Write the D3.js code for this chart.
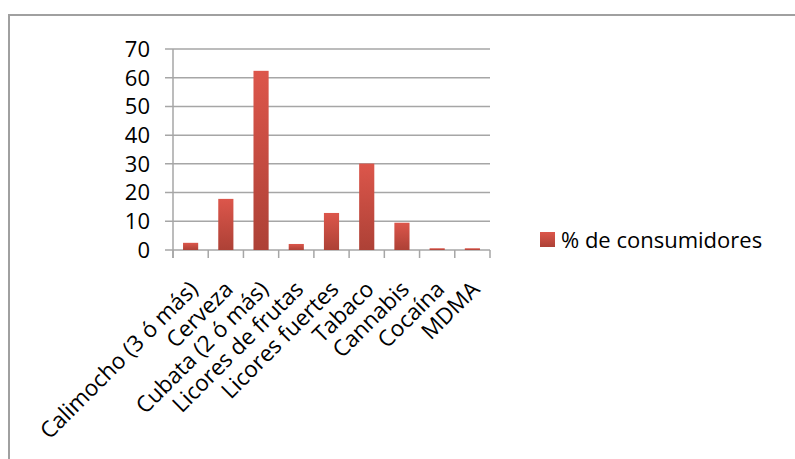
<!DOCTYPE html>
<html><head><meta charset="utf-8">
<script src="https://cdn.jsdelivr.net/npm/d3@7"></script>
<style>body{margin:0;background:#fff}text{font-family:"Open Sans",sans-serif;fill:#000}</style>
</head><body>
<svg id="c" width="795" height="459"></svg>
<script>
const categories = ["Calimocho (3 ó más)","Cerveza","Cubata (2 ó más)","Licores de frutas","Licores fuertes","Tabaco","Cannabis","Cocaína","MDMA"];
const values = [2.5,17.8,62.4,2.1,12.9,30.1,9.5,0.6,0.6];
const yTicks = [0,10,20,30,40,50,60,70];
const seriesName = "% de consumidores";

const svg = d3.select("#c");
const m = {left:173, right:490, top:49, bottom:250};
const defs = svg.append("defs");
const g = defs.append("linearGradient").attr("id","bg").attr("x1",0).attr("y1",0).attr("x2",0).attr("y2",1);
g.append("stop").attr("offset","0%").attr("stop-color","#dc564b");
g.append("stop").attr("offset","100%").attr("stop-color","#ad4136");

svg.append("path").attr("d","M9,459 V15 H795").attr("fill","none").attr("stroke","#a0a0a0").attr("stroke-width",2);

const x = d3.scaleBand().domain(categories).range([m.left,m.right]).paddingInner(0.57).paddingOuter(0.285);
const y = d3.scaleLinear().domain([0,70]).range([m.bottom,m.top]);

// gridlines
svg.append("g").selectAll("line").data(yTicks).join("line")
  .attr("x1",m.left-8).attr("x2",m.right).attr("y1",d=>y(d)).attr("y2",d=>y(d))
  .attr("stroke","#a6a6a6").attr("stroke-width",1.5);
// y axis line
svg.append("line").attr("x1",m.left).attr("x2",m.left).attr("y1",m.top).attr("y2",m.bottom+8).attr("stroke","#a6a6a6").attr("stroke-width",1.5);
// x tick marks
const xt = d3.range(categories.length+1).map(i=>m.left + i*(m.right-m.left)/categories.length);
svg.append("g").selectAll("line").data(xt).join("line")
  .attr("x1",d=>d).attr("x2",d=>d).attr("y1",m.bottom).attr("y2",m.bottom+8)
  .attr("stroke","#a6a6a6").attr("stroke-width",1.5);

// y labels
svg.append("g").selectAll("text").data(yTicks).join("text")
  .attr("x",m.left-23).attr("y",d=>y(d)).attr("dy","0.36em").attr("text-anchor","end")
  .style("font-size","22px").text(d=>d);

// bars
svg.append("g").selectAll("rect").data(values).join("rect")
  .attr("x",(d,i)=>x(categories[i])).attr("width",x.bandwidth())
  .attr("y",d=>y(d)).attr("height",d=>y(0)-y(d)).attr("fill","url(#bg)");

// x labels
svg.append("g").selectAll("text").data(categories).join("text")
  .attr("transform",d=>`translate(${x(d)+x.bandwidth()/2+3},${m.bottom+35}) rotate(-45)`)
  .attr("text-anchor","end").attr("dy","0.35em")
  .style("font-size","22.5px").text(d=>d);

// legend
svg.append("rect").attr("x",540).attr("y",232).attr("width",15).attr("height",15).attr("fill","url(#bg)");
svg.append("text").attr("x",561).attr("y",240).attr("dy","0.36em").style("font-size","22px").text(seriesName);
</script>
</body></html>
